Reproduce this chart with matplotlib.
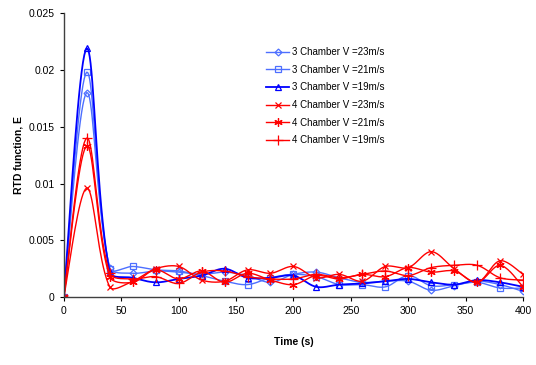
import numpy as np
import matplotlib
matplotlib.use("Agg")
import matplotlib.pyplot as plt

plt.rcParams["font.family"] = ["Liberation Sans", "DejaVu Sans"]

# ---------- Data ----------
time_s = [0, 20, 40, 60, 80, 100, 120, 140, 160, 180, 200,
          220, 240, 260, 280, 300, 320, 340, 360, 380, 400]

c3_v23 = [0, 0.0180, 0.0026, 0.0021, 0.0023, 0.0022, 0.0020, 0.0022, 0.0019, 0.0013, 0.0020,
          0.0022, 0.0017, 0.0013, 0.0014, 0.0014, 0.0006, 0.0010, 0.0014, 0.0011, 0.0005]
c3_v21 = [0, 0.0198, 0.0025, 0.0027, 0.0024, 0.0023, 0.0019, 0.0014, 0.0011, 0.0017, 0.0020,
          0.0018, 0.0011, 0.0011, 0.0009, 0.0019, 0.0010, 0.0011, 0.0013, 0.0008, 0.0008]
c3_v19 = [0, 0.0219, 0.0022, 0.0017, 0.0013, 0.0016, 0.0019, 0.0025, 0.0017, 0.0017, 0.0019,
          0.0009, 0.0011, 0.0012, 0.0014, 0.0016, 0.0013, 0.0011, 0.0015, 0.0013, 0.0009]
c4_v23 = [0, 0.0096, 0.0009, 0.0014, 0.0025, 0.0027, 0.0015, 0.0014, 0.0024, 0.0021, 0.0027,
          0.0017, 0.0020, 0.0014, 0.0027, 0.0026, 0.0040, 0.0025, 0.0013, 0.0032, 0.0020]
c4_v21 = [0, 0.0133, 0.0018, 0.0013, 0.0024, 0.0016, 0.0023, 0.0013, 0.0021, 0.0015, 0.0011,
          0.0019, 0.0016, 0.0020, 0.0018, 0.0026, 0.0022, 0.0023, 0.0013, 0.0028, 0.0009]
c4_v19 = [0, 0.0140, 0.0021, 0.0016, 0.0018, 0.0012, 0.0022, 0.0023, 0.0018, 0.0016, 0.0016,
          0.0020, 0.0017, 0.0020, 0.0023, 0.0019, 0.0026, 0.0028, 0.0028, 0.0017, 0.0015]

labels = ["3 Chamber V =23m/s", "3 Chamber V =21m/s", "3 Chamber V =19m/s",
          "4 Chamber V =23m/s", "4 Chamber V =21m/s", "4 Chamber V =19m/s"]
series = [c3_v23, c3_v21, c3_v19, c4_v23, c4_v21, c4_v19]
colors = ["#4D6FFF", "#4D6FFF", "#0000FF", "#FF0000", "#FF0000", "#FF0000"]
markers = ["D", "s", "^", "x", (6, 2, 0), "+"]
msizes = [3.5, 4.5, 5, 5, 6, 7]

# px per data unit (approx), so the smoothing is done in screen space like Excel
PX_X = 459 / 400
PX_Y = 284 / 0.025


# smoothed line: bezier through points, handle on each side scaled by that side's length
def smooth(x, y, n=20):
    pts = np.column_stack([np.array(x) * PX_X, np.array(y) * PX_Y]).astype(float)
    m = len(pts)
    seglen = [np.hypot(*(pts[i + 1] - pts[i])) for i in range(m - 1)]
    h_in, h_out = [], []
    for i in range(m):
        T = (pts[min(i + 1, m - 1)] - pts[max(i - 1, 0)]) / 3
        Lin = seglen[i - 1] if i > 0 else seglen[0]
        Lout = seglen[i] if i < m - 1 else seglen[-1]
        h_in.append(T * Lin / (Lin + Lout))
        h_out.append(T * Lout / (Lin + Lout))
    out = []
    for i in range(m - 1):
        p1, p2 = pts[i], pts[i + 1]
        c1 = p1 + h_out[i]
        c2 = p2 - h_in[i + 1]
        t = np.linspace(0, 1, n, endpoint=False)[:, None]
        seg = ((1 - t) ** 3) * p1 + 3 * ((1 - t) ** 2) * t * c1 + 3 * (1 - t) * t ** 2 * c2 + t ** 3 * p2
        out.append(seg)
    out.append(pts[-1:])
    out = np.vstack(out)
    return out[:, 0] / PX_X, out[:, 1] / PX_Y


fig = plt.figure(figsize=(5.36, 3.65), dpi=100)
ax = fig.add_axes([0.119, 0.186, 0.857, 0.778])

for y, lab, col, mk, ms in zip(series, labels, colors, markers, msizes):
    sx, sy = smooth(time_s, y)
    lw = 1.3 if col == "#0000FF" else 1.0
    ax.plot(sx, sy, color=col, lw=lw)
    ax.plot(time_s, y, linestyle="none", marker=mk, ms=ms, color=col,
            mfc="none", mew=0.9)
    ax.plot([], [], color=col, lw=lw, marker=mk, ms=ms, mfc="none", mew=0.9, label=lab)

ax.set_xlim(0, 400)
ax.set_ylim(0, 0.025)
ax.set_xticks([0, 50, 100, 150, 200, 250, 300, 350, 400])
ax.set_yticks([0, 0.005, 0.01, 0.015, 0.02, 0.025])
ax.set_yticklabels(["0", "0.005", "0.01", "0.015", "0.02", "0.025"])
ax.tick_params(labelsize=7.5, length=3, width=0.8, colors="black")
for s in ["top", "right"]:
    ax.spines[s].set_visible(False)
for s in ["left", "bottom"]:
    ax.spines[s].set_color("#404040")
    ax.spines[s].set_linewidth(1.0)

ax.set_xlabel("Time (s)", fontsize=7.5, fontweight="bold", labelpad=15)
ax.set_ylabel("RTD function, E", fontsize=7.5, fontweight="bold", labelpad=4)

ax.legend(loc="upper left", bbox_to_anchor=(0.44, 0.88), frameon=False,
          borderpad=0, borderaxespad=0,
          fontsize=7, handlelength=2.4, handletextpad=0.25, labelspacing=0.78)

fig.savefig("out.png", dpi=100)
